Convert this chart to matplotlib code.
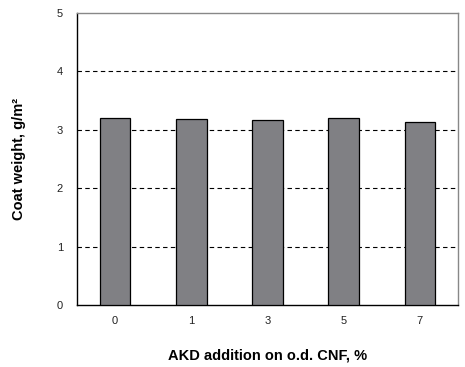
import matplotlib
matplotlib.use('Agg')
import matplotlib.pyplot as plt

plt.rcParams['font.family'] = ['Liberation Sans', 'DejaVu Sans']

categories = ['0', '1', '3', '5', '7']
coat_weight = [3.20, 3.18, 3.17, 3.20, 3.14]

fig = plt.figure(figsize=(4.65, 3.67), dpi=100)
ax = fig.add_axes([77 / 465, 62 / 367, 381 / 465, 292 / 367])

x = range(len(categories))
ax.bar(x, coat_weight, width=0.4, color='#808084', edgecolor='black', linewidth=0.9, zorder=3)

for yv in [1, 2, 3, 4]:
    ax.axhline(yv, color='black', linestyle=(0, (4, 3)), linewidth=0.8, zorder=1)

ax.set_xlim(-0.5, len(categories) - 0.5)
ax.set_ylim(0, 5)
ax.set_xticks(list(x))
ax.set_xticklabels(categories)
ax.set_yticks([0, 1, 2, 3, 4, 5])
ax.tick_params(length=0, labelsize=8, colors='#222222', pad=8)
ax.tick_params(axis='y', pad=10)

ax.spines['top'].set_color('#888888')
ax.spines['right'].set_color('#888888')
for s in ax.spines.values():
    s.set_linewidth(1.0)

ax.set_xlabel('AKD addition on o.d. CNF, %', fontsize=10.5, fontweight='bold', labelpad=16)
ax.set_ylabel('Coat weight, g/m²', fontsize=10.5, fontweight='bold', labelpad=22)

fig.savefig('out.png', dpi=100)
